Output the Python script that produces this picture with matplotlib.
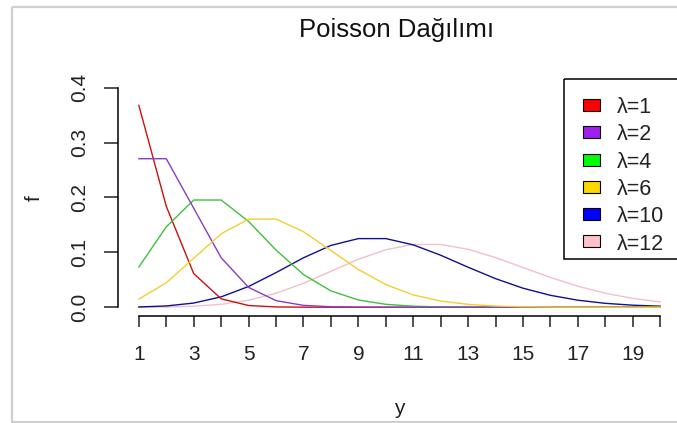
import matplotlib
matplotlib.use("Agg")
import matplotlib.pyplot as plt
from matplotlib.patches import Rectangle
from matplotlib.transforms import Affine2D

plt.rcParams["font.family"] = ["Liberation Sans", "DejaVu Sans"]

# --- values ---
y_vals = list(range(1, 21))

f_l1 = [0.3679, 0.1839, 0.0613, 0.0153, 0.0031, 0.0005, 0.0001, 0.0000, 0.0, 0.0,
        0.0, 0.0, 0.0, 0.0, 0.0, 0.0, 0.0, 0.0, 0.0, 0.0]
f_l2 = [0.2707, 0.2707, 0.1804, 0.0902, 0.0361, 0.0120, 0.0034, 0.0009, 0.0002, 0.0000,
        0.0, 0.0, 0.0, 0.0, 0.0, 0.0, 0.0, 0.0, 0.0, 0.0]
f_l4 = [0.0733, 0.1465, 0.1954, 0.1954, 0.1563, 0.1042, 0.0595, 0.0298, 0.0132, 0.0053,
        0.0019, 0.0006, 0.0002, 0.0001, 0.0, 0.0, 0.0, 0.0, 0.0, 0.0]
f_l6 = [0.0149, 0.0446, 0.0892, 0.1339, 0.1606, 0.1606, 0.1377, 0.1033, 0.0688, 0.0413,
        0.0225, 0.0113, 0.0052, 0.0022, 0.0009, 0.0003, 0.0001, 0.0, 0.0, 0.0]
f_l10 = [0.0005, 0.0023, 0.0076, 0.0189, 0.0378, 0.0631, 0.0901, 0.1126, 0.1251, 0.1251,
         0.1137, 0.0948, 0.0729, 0.0521, 0.0347, 0.0217, 0.0128, 0.0071, 0.0037, 0.0019]
f_l12 = [0.0001, 0.0004, 0.0018, 0.0053, 0.0127, 0.0255, 0.0437, 0.0655, 0.0874, 0.1048,
         0.1144, 0.1144, 0.1056, 0.0905, 0.0724, 0.0543, 0.0383, 0.0255, 0.0161, 0.0097]

labels = ["λ=1", "λ=2", "λ=4", "λ=6", "λ=10", "λ=12"]
series = [f_l1, f_l2, f_l4, f_l6, f_l10, f_l12]
colors = ["#FF0000", "#A020F0", "#00FF00", "#FFD700", "#0000FF", "#FFC0CB"]
line_colors = ["#CC1010", "#8A3CC0", "#40C040", "#F0D030", "#101090", "#F0C0CC"]
zorders = [3, 4, 3.5, 5, 2.5, 2]

W, H = 677, 423
fig = plt.figure(figsize=(W / 100, H / 100), dpi=100)
fig.patch.set_facecolor("white")
# pixel coordinates, origin top-left
px = Affine2D().scale(1 / W, -1 / H).translate(0, 1) + fig.transFigure

# axes placed like the R plot region
ax = fig.add_axes([118 / W, 1 - 316 / H, (681 - 118) / W, (316 - 79) / H])
ax.set_xlim(1 - 0.76, 20 + 0.76)
ax.set_ylim(-0.016, 0.416)

for s, c, z in zip(series, line_colors, zorders):
    ax.plot(y_vals, s, color=c, lw=1.0, zorder=z)

for side in ["top", "right"]:
    ax.spines[side].set_visible(False)
ax.spines["left"].set_bounds(0, 0.4)
ax.spines["bottom"].set_bounds(1, 20)
ax.spines["left"].set_linewidth(1.1)
ax.spines["bottom"].set_linewidth(1.1)

ax.set_xticks(y_vals)
ax.set_xticklabels([str(v) if v % 2 == 1 else "" for v in y_vals])
ax.set_yticks([0.0, 0.1, 0.2, 0.3, 0.4])
ax.set_yticklabels(["0.0", "0.1", "0.2", "0.3", "0.4"], rotation=90, va="center")
ax.tick_params(axis="x", length=8, width=1.1, pad=13, labelsize=15, colors="#222222")
ax.tick_params(axis="y", length=10, width=1.1, pad=11, labelsize=15, colors="#222222")

# title and axis labels
fig.text(397, 37, "Poisson Dağılımı", transform=px, ha="center", va="baseline",
         fontsize=18.5, color="#111111")
fig.text(399, 414, "y", transform=px, ha="center", va="baseline", fontsize=15, color="#222222")
fig.text(34, 198, "f", transform=px, ha="center", va="center", rotation=90,
         fontsize=15, color="#222222")

# legend with filled boxes, drawn like R's legend(fill=...)
fig.patches.append(Rectangle((564, 79), 130, 180, transform=px, fill=False,
                             edgecolor="black", linewidth=1.1))
row_y = [105, 132.3, 159.6, 186.9, 214.2, 241.5]
for ry, c, lab in zip(row_y, colors, labels):
    fig.patches.append(Rectangle((583, ry - 6), 17, 12, transform=px, facecolor=c,
                                 edgecolor="black", linewidth=0.8))
    fig.text(617, ry, lab, transform=px, ha="left", va="center_baseline",
             fontsize=15.5, color="#222222")

# light grey frame round the picture
fig.patches.append(Rectangle((12, 7), W + 10, 415, transform=px, fill=False,
                             edgecolor="#D0D0D0", linewidth=1.6))

fig.savefig("out.png", dpi=100)
